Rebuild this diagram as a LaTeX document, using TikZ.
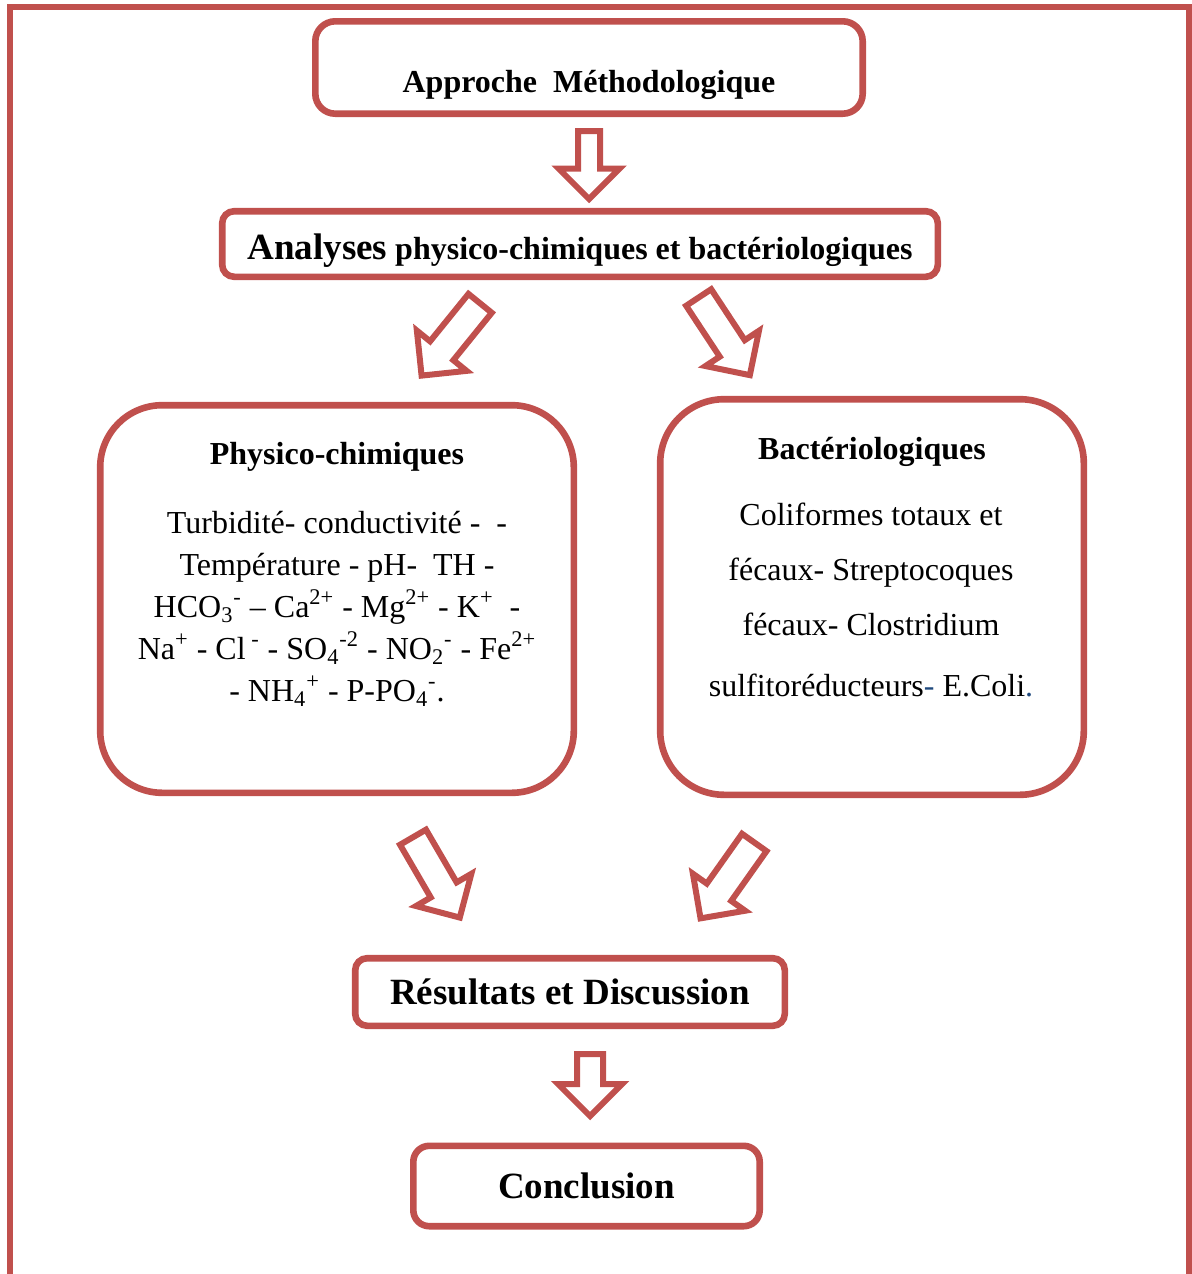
\documentclass[tikz,border=0pt]{standalone}
\usepackage{fontspec}
\setmainfont{Liberation Serif}
\usepackage{xcolor}
\usetikzlibrary{shapes.arrows, positioning}

\definecolor{boxred}{HTML}{C0504D}
\definecolor{dotblue}{HTML}{1F497D}

\tikzset{
  box/.style={draw=boxred, line width=3.3pt, fill=white, rounded corners=#1, inner sep=0pt, align=center},
  box/.default=6pt,
  fatarrow/.style={single arrow, draw=boxred, fill=white, line width=3pt, anchor=tail,
    inner xsep=0pt, single arrow tip angle=90},
  boldtxt/.style={font={\fontsize{16}{19}\selectfont\bfseries}},
}

\begin{document}
\begin{tikzpicture}[x=0.5pt, y=-0.5pt]
\useasboundingbox (0,0) rectangle (1192,1274);
% outer frame
\draw[boxred, line width=3pt] (10,1274) |- (1189,7) -- (1189,1274);

% top boxes
\node[box=10pt, boldtxt, minimum width=273.7pt, minimum height=46.2pt, text height=27.5pt, text depth=3pt] (appr) at (589,67.5) {Approche~~Méthodologique};
\node[box=6pt, boldtxt, minimum width=357.8pt, minimum height=32.8pt, text height=19pt, text depth=4pt] (anal) at (580,244) {{\fontsize{18.5}{22}\selectfont Analyses} physico-chimiques et bactériologiques};

% the two analysis boxes
\node[box=31pt, minimum width=236.8pt, minimum height=193.8pt] (phys) at (337,599) {};
\node[boldtxt] (phystitle) at (337,457) {Physico-chimiques};
\node[align=center, font={\fontsize{16}{21}\selectfont}] (phystxt) at (337,608.5) {Turbidité- conductivité -~~-\\ Température - pH-~~TH -\\ HCO\textsubscript{3}\textsuperscript{-} -- Ca\textsuperscript{2+} - Mg\textsuperscript{2+} - K\textsuperscript{+}~~-\\ Na\textsuperscript{+} - Cl\textsuperscript{~-} - SO\textsubscript{4}\textsuperscript{-2} - NO\textsubscript{2}\textsuperscript{-} - Fe\textsuperscript{2+}\\ - NH\textsubscript{4}\textsuperscript{+} - P-PO\textsubscript{4}\textsuperscript{-}.};

\node[box=32pt, minimum width=211.8pt, minimum height=197.8pt] (bact) at (872,597) {};
\node[boldtxt] (bacttitle) at (872,452) {Bactériologiques};
\node[align=center, font={\fontsize{16}{27.5}\selectfont}] (bacttxt) at (871,600) {Coliformes totaux et\\ fécaux- Streptocoques\\ fécaux- Clostridium\\[3pt] sulfitoréducteurs\textcolor{dotblue}{-} E.Coli\textcolor{dotblue}{.}};

% bottom boxes
\node[box=6pt, minimum width=214.8pt, minimum height=33.8pt, font={\fontsize{18.5}{22}\selectfont\bfseries}] (resu) at (570,992) {Résultats et Discussion};
\node[box=8pt, minimum width=173.2pt, minimum height=40.2pt, font={\fontsize{18.5}{22}\selectfont\bfseries}] (conc) at (586.5,1186) {Conclusion};

% block arrows
\node[fatarrow, rotate=-90, inner ysep=4pt, single arrow head extend=9.75pt, minimum height=34pt] (a1) at (589,128) {};
\node[fatarrow, rotate=-129, inner ysep=6pt, single arrow head extend=8.5pt, minimum height=46.5pt] (a2) at (482,301) {};
\node[fatarrow, rotate=-56.6, inner ysep=6pt, single arrow head extend=8.5pt, minimum height=46.5pt] (a3) at (697,295) {};
\node[fatarrow, rotate=-59.8, inner ysep=6pt, single arrow head extend=8.5pt, minimum height=46.5pt] (a4) at (411.5,834.6) {};
\node[fatarrow, rotate=-125.3, inner ysep=6pt, single arrow head extend=8.5pt, minimum height=46.5pt] (a5) at (756,840) {};
\node[fatarrow, rotate=-90, inner ysep=5pt, single arrow head extend=9.5pt, minimum height=31pt] (a6) at (590,1051) {};
\end{tikzpicture}
\end{document}
